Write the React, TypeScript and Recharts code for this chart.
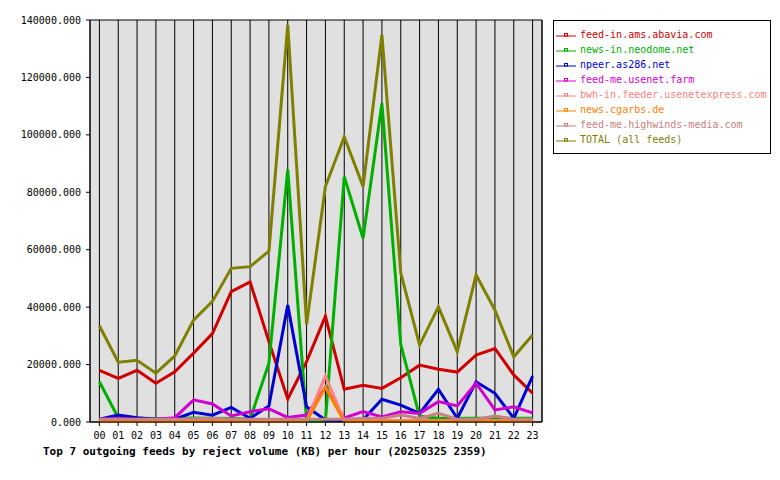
import React from 'react';
import { LineChart, Line, XAxis, YAxis, CartesianGrid } from 'recharts';

const hours = ['00', '01', '02', '03', '04', '05', '06', '07', '08', '09', '10', '11',
  '12', '13', '14', '15', '16', '17', '18', '19', '20', '21', '22', '23'];

const abavia = [18000, 15200, 18000, 13500, 17500, 24000, 30800, 45400, 48800, 28000, 8000, 21000,
  36800, 11400, 12800, 11700, 15400, 19800, 18400, 17400, 23300, 25600, 16400, 10000];
const neodome = [14000, 1500, 1300, 1200, 1200, 1400, 1300, 1200, 1000, 20500, 88000, 300,
  400, 85400, 64000, 111000, 27000, 2000, 1300, 1300, 1300, 1300, 1300, 1300];
const as286 = [1000, 2400, 1500, 1000, 1000, 3400, 2400, 5100, 1300, 5600, 40700, 5300,
  700, 500, 800, 7900, 5900, 3000, 11400, 1300, 14000, 10000, 1300, 16000];
const usenetFarm = [1000, 1200, 1000, 1000, 1500, 7700, 6300, 2100, 3600, 4600, 1600, 2400,
  12000, 1400, 3600, 1800, 3600, 3000, 7100, 5600, 13500, 4200, 5300, 3200];
const usenetExpress = [500, 500, 500, 500, 500, 500, 500, 500, 500, 500, 500, 500,
  16000, 500, 500, 500, 500, 500, 500, 500, 500, 500, 500, 500];
const cgarbs = [200, 200, 200, 200, 200, 400, 400, 200, 200, 200, 200, 300,
  12100, 200, 200, 200, 300, 300, 300, 300, 300, 300, 200, 200];
const highwinds = [1000, 1000, 1000, 1000, 1000, 1100, 1300, 1000, 1000, 1000, 1000, 1000,
  1000, 1000, 1300, 1300, 2400, 1200, 3000, 1000, 1000, 2100, 1000, 1000];
const total = [33500, 20800, 21500, 17000, 23000, 35500, 42000, 53500, 54100, 59500, 138300, 34000,
  82000, 99300, 82000, 134800, 51900, 26800, 40100, 24500, 51200, 39000, 22700, 30300];

const yTicks = [0, 20000, 40000, 60000, 80000, 100000, 120000, 140000];

const series = [
  { key: 'abavia', name: 'feed-in.ams.abavia.com', color: '#d00000', values: abavia },
  { key: 'neodome', name: 'news-in.neodome.net', color: '#00b000', values: neodome },
  { key: 'as286', name: 'npeer.as286.net', color: '#0000d0', values: as286 },
  { key: 'usenetFarm', name: 'feed-me.usenet.farm', color: '#d000d0', values: usenetFarm },
  { key: 'usenetExpress', name: 'bwh-in.feeder.usenetexpress.com', color: '#ff8080', values: usenetExpress },
  { key: 'cgarbs', name: 'news.cgarbs.de', color: '#ff8000', values: cgarbs },
  { key: 'highwinds', name: 'feed-me.highwinds-media.com', color: '#c88080', values: highwinds },
  { key: 'total', name: 'TOTAL (all feeds)', color: '#808000', values: total },
];

const data = hours.map((h, i) => {
  const row: any = { hour: h };
  series.forEach((s) => { row[s.key] = s.values[i]; });
  return row;
});

const mono = '"DejaVu Sans Mono", monospace';
const tickStyle = { fontSize: 10, fontFamily: mono, fill: '#000' };

const FeedLegend = () => (
  <div
    style={{
      position: 'absolute', left: 553, top: 20, width: 216, height: 126,
      border: '1px solid #000', background: '#fff', paddingTop: 6, boxSizing: 'content-box',
    }}
  >
    {series.map((s) => (
      <div key={s.key} style={{ display: 'flex', alignItems: 'center', height: 15, paddingLeft: 2 }}>
        <svg width={21} height={8} style={{ marginRight: 3 }}>
          <line x1={0} y1={5} x2={20} y2={5} stroke={s.color} strokeWidth={1} />
          <rect x={8.5} y={2.5} width={3} height={2.5} fill="none" stroke={s.color} strokeWidth={1} />
        </svg>
        <span style={{ fontFamily: mono, fontSize: 10, color: s.color, whiteSpace: 'nowrap' }}>{s.name}</span>
      </div>
    ))}
  </div>
);

export default function App() {
  return (
    <div style={{ position: 'absolute', left: 0, top: 0, width: 780, height: 480, background: '#fff' }}>
      <LineChart
        width={780}
        height={480}
        data={data}
        margin={{ top: 20, right: 237, bottom: 38, left: 0 }}
      >
        <CartesianGrid stroke="#000" strokeWidth={1} fill="#e0e0e0" fillOpacity={1} />
        <XAxis
          dataKey="hour"
          padding={{ left: 9.4, right: 9.4 }}
          tick={tickStyle}
          tickSize={4}
          tickMargin={6}
          height={20}
          stroke="#000"
          interval={0}
        />
        <YAxis
          yAxisId="left"
          domain={[0, 140000]}
          ticks={yTicks}
          tickFormatter={(v: number) => v.toFixed(3)}
          tick={tickStyle}
          tickSize={4}
          tickMargin={5}
          width={90}
          stroke="#000"
        />
        <YAxis
          yAxisId="right"
          orientation="right"
          domain={[0, 140000]}
          ticks={yTicks}
          tick={false}
          tickLine={false}
          width={1}
          stroke="#000"
        />
        {series.map((s) => (
          <Line
            key={s.key}
            yAxisId="left"
            type="linear"
            dataKey={s.key}
            name={s.name}
            stroke={s.color}
            strokeWidth={3}
            dot={false}
            activeDot={false}
            isAnimationActive={false}
          />
        ))}
      </LineChart>
      <FeedLegend />
      <div
        style={{
          position: 'absolute', left: 43, top: 445, fontFamily: mono, fontSize: 11,
          fontWeight: 'bold', color: '#000', whiteSpace: 'nowrap',
        }}
      >
        Top 7 outgoing feeds by reject volume (KB) per hour (20250325 2359)
      </div>
    </div>
  );
}
